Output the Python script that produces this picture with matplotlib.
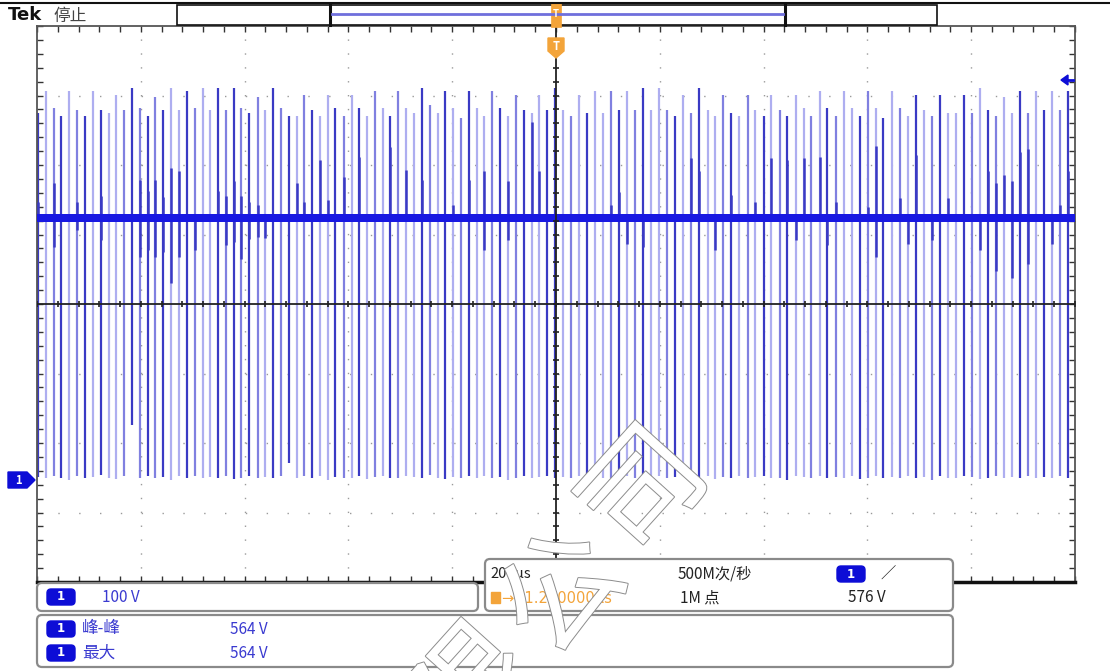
"""Tek scope capture: switching spikes on a ~375 V bus, 200 us/div, 100 V/div."""

import matplotlib

matplotlib.use("Agg")
import matplotlib.pyplot as plt
import matplotlib.patheffects as pe
import numpy as np
from matplotlib.patches import FancyBboxPatch, Polygon, Rectangle
from matplotlib.ticker import FixedLocator, MultipleLocator

plt.rcParams["font.family"] = ["Noto Sans CJK SC", "DejaVu Sans"]

# ---- data ---------------------------------------------------------------------
# time of each switching edge (us, 0..2000 across the record)
SPIKE_T = [
    2, 17, 32, 47, 62, 77, 93, 108, 123, 138, 153, 168, 183, 198, 213, 228, 243,
    259, 274, 289, 304, 319, 334, 349, 364, 379, 394, 409, 425, 440, 455, 470,
    485, 500, 515, 530, 545, 560, 575, 591, 606, 621, 636, 651, 666, 681, 696,
    711, 726, 741, 757, 772, 787, 802, 817, 832, 847, 862, 877, 892, 907, 922,
    938, 953, 968, 983, 998, 1013, 1029, 1044, 1060, 1075, 1091, 1106, 1122,
    1137, 1153, 1168, 1183, 1199, 1214, 1230, 1245, 1261, 1276, 1292, 1307,
    1322, 1338, 1353, 1369, 1384, 1400, 1415, 1431, 1446, 1462, 1477, 1492,
    1508, 1523, 1539, 1554, 1570, 1585, 1601, 1616, 1631, 1647, 1662, 1678,
    1693, 1709, 1724, 1740, 1755, 1771, 1786, 1801, 1817, 1832, 1848, 1863,
    1879, 1894, 1910, 1925, 1940, 1956, 1971, 1987,
]
# overshoot peak of each edge (V)
SPIKE_TOP = [
    528, 560, 535, 523, 560, 532, 523, 560, 532, 528, 554, 532, 564, 535, 523,
    551, 532, 564, 532, 560, 535, 564, 532, 564, 532, 564, 535, 528, 551, 532,
    564, 535, 523,
    523, 554, 532, 523, 554, 535, 523, 554, 535, 523, 560, 535, 523, 560, 535,
    528, 564, 540, 528, 560, 535, 521, 560, 535, 523, 560, 535, 523, 554, 532,
    528, 554, 532,
    564, 532, 523, 554, 528, 560, 528, 560, 532, 560, 532, 564, 532, 564, 532,
    523, 554, 528, 564, 532, 523, 554, 528, 523, 554, 532, 523, 554, 532, 523,
    554, 535, 523,
    560, 535, 523, 560, 535, 523, 560, 535, 521, 560, 535, 523, 554, 532, 523,
    554, 528, 528, 554, 528, 564, 532, 523, 551, 528, 560, 528, 560, 532, 560,
    532, 560,
]
# undershoot of each edge (V)
SPIKE_BOT = [
    4, 2, 6, 3, 0, 5, 2, 4, 7, 3, 1,
    5, 79, 2, 6, 3, 4, 0, 5, 2, 6, 3,
    4, 2, 5, 1, 3, 6, 2, 4, 3, 5, 24,
    3, 5, 2, 6, 0, 4, 3, 2, 5, 1, 4,
    6, 2, 3, 5, 4, 2, 7, 3, 1, 4, 2,
    5, 3, 6, 2, 4, 0, 3, 5, 2, 4, 6,
    2, 4, 3, 5, 1, 6, 2, 3, 4, 5, 2,
    0, 3, 6, 2, 4, 5, 3, 2, 6, 1, 4,
    3, 5, 2, 4, 6, 2, 3, 0, 5, 4, 2,
    6, 3, 4, 2, 5, 1, 3, 6, 2, 4, 3,
    5, 2, 4, 0, 6, 3, 2, 5, 4, 1, 3,
    6, 2, 4, 3, 5, 2, 4, 3, 6, 2,
]
# display intensity of each edge: L light, M medium, D dark
SPIKE_SHADE = (
    "DLMDLMDLDLLMDMDMDLLDMLLDMDMDMLDMD"
    "LMDLLDMLDLMLDMLLDMLDLMDLLMDLMDLLD"
    "DLMLDLLMDLMDLLMDLMDLLMDLMLDLMDLLM"
    "LDMLLDMLDLMLDLMDLLDMLDMLLDMLDLMD"
)
# high-persistence ringing above the bus (edge index, V reached)
RING_IDX = [0, 2, 5, 8, 13, 14, 15, 16, 17, 18, 23, 24, 25, 26, 27, 28,
            33, 34, 36, 37, 39, 41, 45, 47, 49, 53, 55, 57, 60, 63, 64,
            73, 74, 83, 84, 88, 91, 93, 95, 97,
            99, 101, 105, 106, 109, 111, 115, 120, 121, 122, 123, 124, 125, 129, 130]
RING_UP = [400, 427, 400, 408, 432, 415, 432, 407, 449, 444, 415, 408, 430, 408, 400, 395,
           427, 400, 460, 403, 436, 465, 479, 446, 432, 396, 432, 444, 430, 515, 444,
           396, 414, 463, 444, 410, 400, 463, 460, 463,
           465, 400, 393, 480, 405, 468, 405, 444, 427, 439, 430, 472, 476, 396, 444]
# high-persistence ringing below the bus
DIP_IDX = [2, 5, 8, 13, 14, 15, 16, 17, 18, 20, 24, 25, 26, 27, 28, 29,
           57, 60, 75, 77, 86, 96, 100, 106, 110, 113, 119, 121, 123, 125, 128]
DIP_V = [335, 360, 345, 320, 330, 320, 328, 283, 320, 330, 338, 342, 318, 346, 350, 348,
         330, 345, 340, 335, 330, 345, 338, 320, 340, 345, 330, 300, 290, 310, 340]
BUS_V = 377          # DC bus level
TRIG_V = 576         # trigger level

# ---- scope screen settings ----------------------------------------------------
T_SPAN = (0, 2000)       # 10 div x 200 us
V_SPAN = (-147, 653)     # 8 div x 100 V, ground 1.47 div above bottom
T_DIV, V_DIV = 200, 100

BLUE_L = "#aeaef0"
BLUE_M = "#8080e0"
BLUE_D = "#3a3ac4"
BUS = "#1818e2"
BADGE = "#0d0dd6"
ORANGE = "#f3a43a"
INK = "#111111"
GRID = "#9a9a9a"
SHADES = {"L": BLUE_L, "M": BLUE_M, "D": BLUE_D}

W, H = 1110, 671
fig = plt.figure(figsize=(W / 100, H / 100), dpi=100)
fig.patch.set_facecolor("white")


def px_axes(x0, y0, x1, y1, **kw):
    return fig.add_axes([x0 / W, 1 - y1 / H, (x1 - x0) / W, (y1 - y0) / H], **kw)


ax = px_axes(37, 26, 1075, 582)
ax.set_xlim(*T_SPAN)
ax.set_ylim(*V_SPAN)

# dotted graticule
xg = np.arange(T_SPAN[0] + T_DIV, T_SPAN[1], T_DIV)
yg = np.arange(V_SPAN[0] + V_DIV, V_SPAN[1], V_DIV)
tc = (T_SPAN[0] + T_SPAN[1]) / 2
vc = (V_SPAN[0] + V_SPAN[1]) / 2
for x in xg:
    if x != tc:
        ax.axvline(x, color=GRID, lw=1.0, ls=(0, (1, 9)), zorder=0)
for y in yg:
    if y != vc:
        ax.axhline(y, color=GRID, lw=1.0, ls=(0, (1, 14)), zorder=0)

# trace
ax.vlines(SPIKE_T, SPIKE_BOT, SPIKE_TOP, colors=[SHADES[s] for s in SPIKE_SHADE],
          lw=1.6, zorder=2)
ax.vlines([SPIKE_T[i] for i in RING_IDX], BUS_V, RING_UP, colors=BLUE_D, lw=1.8, zorder=3)
ax.vlines([SPIKE_T[i] for i in DIP_IDX], DIP_V, BUS_V, colors=BLUE_D, lw=1.8, zorder=3)
ax.axhspan(BUS_V - 6, BUS_V + 6, color=BUS, lw=0, zorder=4)

# centre cross with minor ticks
ax.axvline(tc, color="#222222", lw=1.3, zorder=5)
ax.axhline(vc, color="#222222", lw=1.3, zorder=5)
xm = np.arange(T_SPAN[0], T_SPAN[1] + 1, T_DIV / 5)
ym = np.arange(V_SPAN[0], V_SPAN[1] + 1, V_DIV / 5)
ax.plot(xm, np.full_like(xm, vc, dtype=float), ls="none", marker="|", ms=5, mew=1.2,
        color="#222222", zorder=5)
ax.plot(np.full_like(ym, tc, dtype=float), ym, ls="none", marker="_", ms=5, mew=1.2,
        color="#222222", zorder=5)

ax.xaxis.set_major_locator(FixedLocator([]))
ax.yaxis.set_major_locator(FixedLocator([]))
ax.xaxis.set_minor_locator(MultipleLocator(T_DIV / 5))
ax.yaxis.set_minor_locator(FixedLocator(ym))
ax.tick_params(which="minor", direction="in", length=4, width=1.0, color="#333333",
               top=True, right=True, labelbottom=False, labelleft=False)
for side in ("left", "right", "top"):
    ax.spines[side].set_linewidth(1.3)
    ax.spines[side].set_color("#555555")
ax.spines["bottom"].set_linewidth(2.5)
ax.spines["bottom"].set_color(INK)

# ---- overlay in screen pixels ---------------------------------------------------
ov = fig.add_axes([0, 0, 1, 1], zorder=10)
ov.set_xlim(0, W)
ov.set_ylim(H, 0)
ov.axis("off")
ov.patch.set_alpha(0)

ov.plot([0, W], [3, 3], color=INK, lw=1.5)
ov.text(8, 15, "Tek", fontsize=13, weight="bold", color=INK, va="center",
        family=["DejaVu Sans"])
ov.text(53, 16, "停止", fontsize=12, color="#444444", va="center")

ov.add_patch(Rectangle((177, 5), 760, 20, facecolor="white", edgecolor=INK, lw=1.2))
ov.plot([330, 330], [5, 25], color=INK, lw=2.2)
ov.plot([785, 785], [5, 25], color=INK, lw=2.2)
ov.plot([332, 783], [14, 14], color="#6f6fdc", lw=2.0)

# trigger position markers
ov.add_patch(Rectangle((551, 3), 10, 24, facecolor=ORANGE, edgecolor=ORANGE, lw=0.5))
ov.text(556, 14, "T", fontsize=7, color="white", ha="center", va="center", weight="bold")
ov.add_patch(Polygon([(548, 38), (564, 38), (564, 51), (556, 58), (548, 51)],
                     facecolor=ORANGE, edgecolor=ORANGE))
ov.text(556, 46, "T", fontsize=8, color="white", ha="center", va="center", weight="bold")

# channel 1 ground marker and trigger level arrow
ov.add_patch(Polygon([(8, 472), (27, 472), (35, 480), (27, 488), (8, 488)],
                     facecolor=BADGE, edgecolor=BADGE))
ov.text(18, 480, "1", fontsize=8, color="white", ha="center", va="center", weight="bold")
ov.add_patch(Polygon([(1061, 80), (1068, 75), (1068, 85)], facecolor=BADGE, edgecolor=BADGE))
ov.plot([1066, 1073], [80, 80], color=BADGE, lw=2)


def rbox(x0, y0, x1, y1):
    ov.add_patch(FancyBboxPatch((x0 + 5, y0 + 5), x1 - x0 - 10, y1 - y0 - 10,
                                boxstyle="round,pad=5", facecolor="white",
                                edgecolor="#8a8a8a", lw=1.6, zorder=11))


def badge(xc, yc):
    ov.add_patch(FancyBboxPatch((xc - 10, yc - 4), 20, 8, boxstyle="round,pad=4",
                                facecolor=BADGE, edgecolor=BADGE, zorder=12))
    ov.text(xc, yc, "1", fontsize=8.5, color="white", ha="center", va="center",
            weight="bold", zorder=13, family=["DejaVu Sans"])


rbox(37, 583, 478, 611)
rbox(485, 559, 953, 611)
rbox(37, 615, 953, 667)

TXT_BLUE = "#3a3ad0"
badge(61, 597)
ov.text(102, 597, "100 V", fontsize=11, color=TXT_BLUE, va="center", zorder=13)

badge(61, 629)
ov.text(82, 629, "峰-峰", fontsize=12, color=TXT_BLUE, va="center", zorder=13)
ov.text(230, 629, "564 V", fontsize=11, color=TXT_BLUE, va="center", zorder=13)
badge(61, 653)
ov.text(82, 653, "最大", fontsize=12, color=TXT_BLUE, va="center", zorder=13)
ov.text(230, 653, "564 V", fontsize=11, color=TXT_BLUE, va="center", zorder=13)

ov.text(490, 574, "200µs", fontsize=10.5, color="#222222", va="center", zorder=13)
ov.text(678, 574, "500M次/秒", fontsize=11, color="#222222", va="center", zorder=13)
badge(851, 574)
ov.text(880, 574, "∕", fontsize=11, color="#222222", va="center", zorder=13)
ov.add_patch(Rectangle((491, 592), 9, 11, facecolor=ORANGE, edgecolor=ORANGE, zorder=13))
ov.text(501, 598, "→▼1.200000µs", fontsize=10.5, color=ORANGE, va="center", zorder=13,
        family=["DejaVu Sans"])
ov.text(680, 598, "1M 点", fontsize=11, color="#222222", va="center", zorder=13)
ov.text(848, 598, "576 V", fontsize=11, color="#222222", va="center", zorder=13)

# hollow watermark: white glyphs with a grey outline, running off the bottom edge
wm = [pe.Stroke(linewidth=1.4, foreground="#8c8c8c"), pe.Normal()]
for ch, (cx, cy) in zip("限公司", [(476, 692), (566, 596), (648, 494)]):
    ov.text(cx, cy, ch, fontsize=86, color="white", rotation=48,
            ha="center", va="center", zorder=20, path_effects=wm, clip_on=True)

fig.savefig("out.png", dpi=100)
